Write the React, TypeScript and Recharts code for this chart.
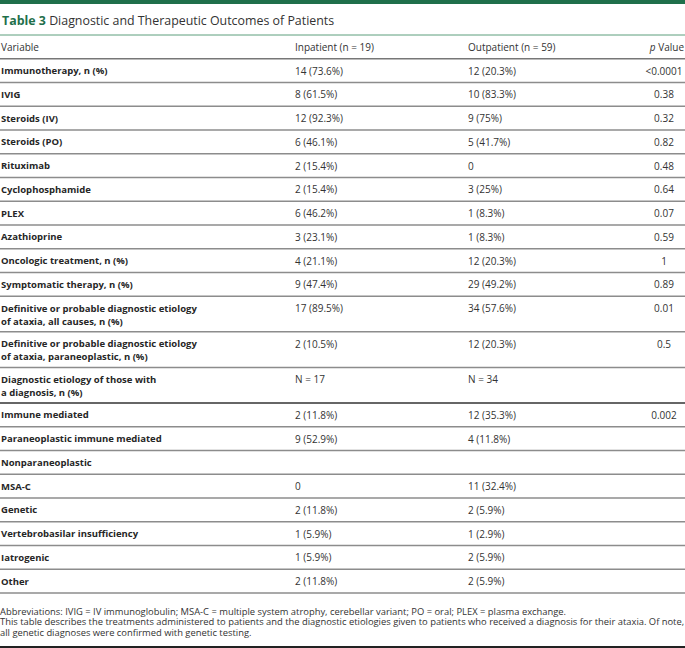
import { ComposedChart, Scatter, XAxis, YAxis, ReferenceLine } from "recharts";

// table content
const title = "Diagnostic and Therapeutic Outcomes of Patients";
const tableLabel = "Table 3";
const headers = ["Variable", "Inpatient (n = 19)", "Outpatient (n = 59)", "Value"];

const variables: string[][] = [
  ["Immunotherapy, n (%)"],
  ["IVIG"],
  ["Steroids (IV)"],
  ["Steroids (PO)"],
  ["Rituximab"],
  ["Cyclophosphamide"],
  ["PLEX"],
  ["Azathioprine"],
  ["Oncologic treatment, n (%)"],
  ["Symptomatic therapy, n (%)"],
  ["Definitive or probable diagnostic etiology", "of ataxia, all causes, n (%)"],
  ["Definitive or probable diagnostic etiology", "of ataxia, paraneoplastic, n (%)"],
  ["Diagnostic etiology of those with", "a diagnosis, n (%)"],
  ["Immune mediated"],
  ["Paraneoplastic immune mediated"],
  ["Nonparaneoplastic"],
  ["MSA-C"],
  ["Genetic"],
  ["Vertebrobasilar insufficiency"],
  ["Iatrogenic"],
  ["Other"],
];
const inpatient = [
  "14 (73.6%)", "8 (61.5%)", "12 (92.3%)", "6 (46.1%)", "2 (15.4%)", "2 (15.4%)", "6 (46.2%)",
  "3 (23.1%)", "4 (21.1%)", "9 (47.4%)", "17 (89.5%)", "2 (10.5%)", "N = 17", "2 (11.8%)",
  "9 (52.9%)", "", "0", "2 (11.8%)", "1 (5.9%)", "1 (5.9%)", "2 (11.8%)",
];
const outpatient = [
  "12 (20.3%)", "10 (83.3%)", "9 (75%)", "5 (41.7%)", "0", "3 (25%)", "1 (8.3%)",
  "1 (8.3%)", "12 (20.3%)", "29 (49.2%)", "34 (57.6%)", "12 (20.3%)", "N = 34", "12 (35.3%)",
  "4 (11.8%)", "", "11 (32.4%)", "2 (5.9%)", "1 (2.9%)", "2 (5.9%)", "2 (5.9%)",
];
const pValues = [
  "<0.0001", "0.38", "0.32", "0.82", "0.48", "0.64", "0.07", "0.59", "1", "0.89",
  "0.01", "0.5", "", "0.002", "", "", "", "", "", "", "",
];
const footnotes = [
  "Abbreviations: IVIG = IV immunoglobulin; MSA-C = multiple system atrophy, cerebellar variant; PO = oral; PLEX = plasma exchange.",
  "This table describes the treatments administered to patients and the diagnostic etiologies given to patients who received a diagnosis for their ataxia. Of note,",
  "all genetic diagnoses were confirmed with genetic testing.",
];

// layout / style
const W = 685;
const H = 648;
const FONT = "'Open Sans', sans-serif";
const GREEN = "#1f6f4b";
const TEXT = "#333";
const COL_X = [1, 295, 468, 664];
const FS = 10;
const LINE_GAP = 13;
const STRONG_BREAK = 12; // dark rule under "Diagnostic etiology..."

let acc = 1; // header occupies the first unit
const rows = variables.map((lines, i) => {
  const top = acc;
  const h = lines.length > 1 ? 1.5 : 1;
  acc += h;
  return { x: 0, y: top + 0.5, bottom: top + h, lines, inp: inpatient[i], out: outpatient[i], p: pValues[i], idx: i };
});
const totalUnits = acc;

const HeaderShape = (props: any) => {
  const { cx, cy } = props;
  return (
    <g fontFamily={FONT} fontSize={FS} fill={TEXT}>
      <text x={cx + COL_X[0]} y={cy} dominantBaseline="central">{headers[0]}</text>
      <text x={cx + COL_X[1]} y={cy} dominantBaseline="central">{headers[1]}</text>
      <text x={cx + COL_X[2]} y={cy} dominantBaseline="central">{headers[2]}</text>
      <text x={cx + 684} y={cy} dominantBaseline="central" textAnchor="end">
        <tspan fontStyle="italic">p</tspan> {headers[3]}
      </text>
    </g>
  );
};

const RowShape = (props: any) => {
  const { cx, cy, payload } = props;
  return (
    <g fontFamily={FONT} fontSize={FS} fill={TEXT}>
      {payload.lines.map((t: string, k: number) => (
        <text key={k} x={cx + COL_X[0]} y={cy + k * LINE_GAP} dominantBaseline="central" fontWeight={700} fontSize={9.5} fill="#262626">{t}</text>
      ))}
      <text x={cx + COL_X[1]} y={cy} dominantBaseline="central">{payload.inp}</text>
      <text x={cx + COL_X[2]} y={cy} dominantBaseline="central">{payload.out}</text>
      <text x={cx + COL_X[3]} y={cy} dominantBaseline="central" textAnchor="middle">{payload.p}</text>
    </g>
  );
};

export default function App() {
  return (
    <div style={{ position: "absolute", left: 0, top: 0, width: W, height: H, background: "#fff", fontFamily: FONT, color: TEXT }}>
      <div style={{ position: "absolute", left: 0, top: 0, width: W, height: 4, background: GREEN }} />
      <div style={{ position: "absolute", left: 2, top: 12, fontSize: 12.4, lineHeight: "18px", whiteSpace: "nowrap" }}>
        <span style={{ color: GREEN, fontWeight: 700 }}>{tableLabel}</span> {title}
      </div>

      <div style={{ position: "absolute", left: 0, top: 0 }}>
        <ComposedChart width={W} height={H} margin={{ top: 35, right: 0, bottom: 55, left: 0 }}>
          <XAxis type="number" dataKey="x" domain={[0, 1]} hide />
          <YAxis type="number" dataKey="y" domain={[0, totalUnits]} reversed hide allowDataOverflow />
          <ReferenceLine y={0} stroke="#5c9e7c" strokeWidth={1} ifOverflow="visible" />
          <ReferenceLine y={1} stroke="#777" strokeWidth={1.5} ifOverflow="visible" />
          {rows.map((r) => (
            <ReferenceLine
              key={r.idx}
              y={r.bottom}
              stroke={r.idx === STRONG_BREAK ? "#333" : "#8c8c8c"}
              strokeWidth={1.5}
              ifOverflow="visible"
            />
          ))}
          <Scatter data={[{ x: 0, y: 0.5 }]} shape={<HeaderShape />} isAnimationActive={false} />
          <Scatter data={rows} shape={<RowShape />} isAnimationActive={false} />
        </ComposedChart>
      </div>

      <div style={{ position: "absolute", left: 0, top: 606.5, fontSize: 9.4, lineHeight: "10.5px" }}>
        {footnotes.map((f, i) => (
          <div key={i} style={{ whiteSpace: "nowrap", height: 10.5 }}>{f}</div>
        ))}
      </div>
      <div style={{ position: "absolute", left: 0, top: 646, width: W, height: 1.5, background: "#222" }} />
    </div>
  );
}
